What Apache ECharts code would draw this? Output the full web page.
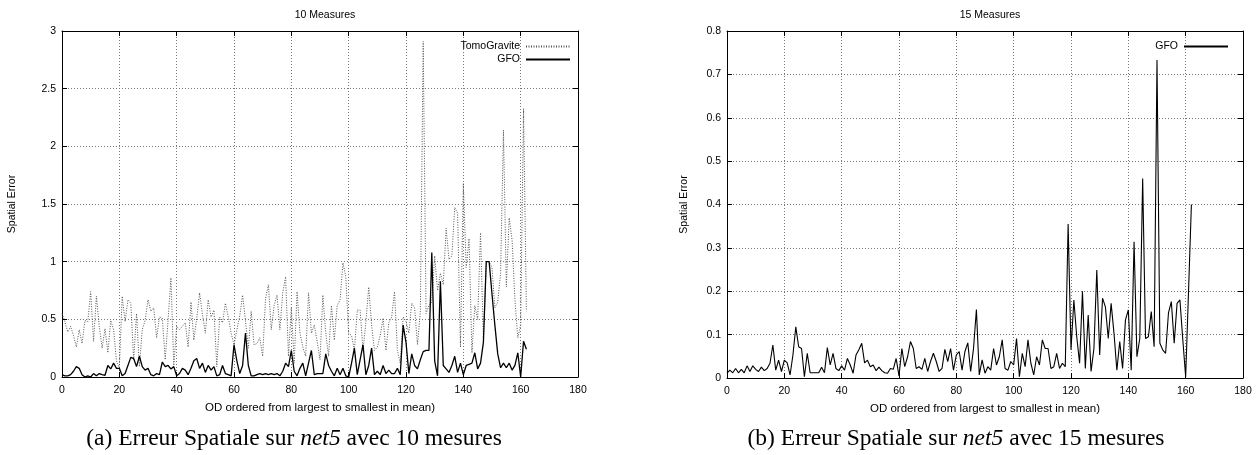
<!DOCTYPE html>
<html>
<head>
<meta charset="utf-8">
<script src="https://cdn.jsdelivr.net/npm/echarts@6/dist/echarts.min.js"></script>
<style>html,body{margin:0;padding:0;background:#fff}#c{width:1258px;height:455px}</style>
</head>
<body>
<div id="c"></div>
<script>
// ---- data ----
const titles = ['10 Measures', '15 Measures'];
const captionsPrefix = ['(a) Erreur Spatiale sur ', '(b) Erreur Spatiale sur '];
const captionsNet = ['net5', 'net5'];
const captionsSuffix = [' avec 10 mesures', ' avec 15 mesures'];
const xName = 'OD ordered from largest to smallest in mean)';
const yName = 'Spatial Error';
const xTicks = [0, 20, 40, 60, 80, 100, 120, 140, 160, 180];
const yTicksA = [0, 0.5, 1, 1.5, 2, 2.5, 3];
const yTicksB = [0, 0.1, 0.2, 0.3, 0.4, 0.5, 0.6, 0.7, 0.8];

const tomo10 = [
 0.55,0.48,0.39,0.44,0.36,0.26,0.41,0.29,0.49,0.48,
 0.74,0.31,0.70,0.44,0.25,0.42,0.21,0.49,0.41,0.14,
 0.08,0.70,0.48,0.67,0.64,0.15,0.55,0.09,0.41,0.49,
 0.67,0.57,0.60,0.34,0.52,0.51,0.15,0.49,0.86,0.10,
 0.44,0.41,0.44,0.47,0.26,0.65,0.32,0.51,0.73,0.54,
 0.38,0.67,0.52,0.58,0.09,0.52,0.47,0.64,0.52,0.38,
 0.28,0.41,0.53,0.71,0.49,0.25,0.57,0.28,0.29,0.34,
 0.18,0.68,0.80,0.41,0.62,0.71,0.41,0.73,0.87,0.18,
 0.60,0.12,0.74,0.38,0.26,0.18,0.73,0.38,0.45,0.31,
 0.15,0.71,0.38,0.18,0.62,0.32,0.62,0.67,0.99,0.87,
 0.38,0.36,0.23,0.58,0.58,0.23,0.47,0.78,0.45,0.23,
 0.26,0.36,0.51,0.23,0.47,0.52,0.74,0.23,0.12,0.52,
 0.48,0.38,0.64,0.60,0.28,0.56,2.91,0.55,0.62,0.65,
 1.05,0.75,0.90,0.80,1.29,1.02,1.05,1.47,1.42,0.26,
 1.68,0.95,1.20,0.21,0.62,0.50,1.25,0.33,1.00,1.00,
 0.95,0.60,0.65,0.90,2.14,0.78,1.38,1.19,0.67,0.34,
 0.45,2.33,0.57
];
const gfo10 = [
 0.02,0.01,0.01,0.02,0.05,0.09,0.075,0.02,0.0,0.01,
 0.0,0.03,0.01,0.03,0.02,0.015,0.10,0.07,0.12,0.075,
 0.075,0.01,0.03,0.10,0.17,0.16,0.09,0.18,0.09,0.06,
 0.075,0.02,0.01,0.03,0.02,0.13,0.09,0.10,0.07,0.09,
 0.01,0.03,0.075,0.06,0.02,0.075,0.14,0.16,0.075,0.12,
 0.04,0.10,0.06,0.09,0.01,0.02,0.10,0.03,0.02,0.01,
 0.28,0.14,0.03,0.10,0.38,0.10,0.01,0.01,0.02,0.03,
 0.02,0.03,0.02,0.03,0.02,0.03,0.01,0.05,0.12,0.09,
 0.23,0.05,0.01,0.075,0.12,0.01,0.12,0.23,0.02,0.03,
 0.03,0.03,0.20,0.10,0.05,0.01,0.075,0.02,0.075,0.01,
 0.0,0.12,0.25,0.02,0.15,0.28,0.02,0.10,0.25,0.02,
 0.05,0.02,0.10,0.03,0.06,0.03,0.03,0.075,0.02,0.45,
 0.30,0.03,0.20,0.10,0.07,0.15,0.22,0.23,0.23,1.08,
 0.14,0.01,0.83,0.10,0.07,0.04,0.10,0.18,0.04,0.12,
 0.02,0.10,0.11,0.12,0.21,0.07,0.12,0.30,1.00,1.00,
 0.72,0.45,0.20,0.08,0.12,0.08,0.12,0.06,0.10,0.21,
 0.0,0.31,0.24
];
const gfo15 = [
 0.011,0.018,0.012,0.022,0.012,0.020,0.012,0.028,0.015,0.028,
 0.020,0.015,0.025,0.017,0.022,0.034,0.076,0.018,0.041,0.015,
 0.041,0.035,0.007,0.053,0.118,0.072,0.068,0.003,0.057,0.012,
 0.012,0.012,0.012,0.025,0.012,0.070,0.030,0.057,0.022,0.017,
 0.028,0.018,0.045,0.030,0.011,0.053,0.065,0.080,0.035,0.041,
 0.026,0.030,0.017,0.025,0.017,0.012,0.011,0.022,0.020,0.045,
 0.005,0.068,0.026,0.049,0.084,0.068,0.022,0.026,0.020,0.045,
 0.015,0.038,0.057,0.038,0.015,0.022,0.066,0.038,0.068,0.018,
 0.053,0.061,0.018,0.061,0.081,0.015,0.068,0.158,0.007,0.042,
 0.011,0.026,0.018,0.068,0.030,0.049,0.088,0.022,0.018,0.038,
 0.030,0.091,0.003,0.057,0.026,0.088,0.034,0.007,0.049,0.030,
 0.088,0.068,0.068,0.022,0.026,0.057,0.022,0.034,0.026,0.355,
 0.065,0.180,0.095,0.034,0.200,0.022,0.145,0.015,0.068,0.249,
 0.053,0.184,0.164,0.091,0.172,0.103,0.018,0.084,0.022,0.134,
 0.157,0.018,0.314,0.049,0.091,0.460,0.091,0.095,0.153,0.072,
 0.733,0.080,0.065,0.057,0.150,0.176,0.080,0.172,0.180,0.088,
 0.003,0.200,0.400
];

// ---- chart ----
const FONT = 'Liberation Sans';
const grids = [
  {left: 62, top: 31, width: 516, height: 346},
  {left: 727, top: 31, width: 516, height: 347}
];
const gridLine = {show: true, lineStyle: {color: '#777', width: 1, type: [1, 2]}};
const axisLine = {show: true, onZero: false, lineStyle: {color: '#000', width: 1}};
const tick = {show: true, inside: true, length: 5, lineStyle: {color: '#000'}};
const lbl = {color: '#000', fontFamily: FONT, fontSize: 10.5};

function xAxes(gi) {
  const base = {type: 'value', gridIndex: gi, min: xTicks[0], max: xTicks[xTicks.length - 1],
    interval: xTicks[1] - xTicks[0], axisLine, axisTick: tick};
  return [
    Object.assign({}, base, {position: 'bottom', splitLine: gridLine,
      axisLabel: Object.assign({}, lbl, {margin: 8}),
      name: xName, nameLocation: 'middle', nameGap: 25,
      nameTextStyle: {color: '#000', fontFamily: FONT, fontSize: 11.5}}),
    Object.assign({}, base, {position: 'top', splitLine: {show: false}, axisLabel: {show: false}})
  ];
}
function yAxes(gi, ticks) {
  const base = {type: 'value', gridIndex: gi, min: ticks[0], max: ticks[ticks.length - 1],
    interval: +(ticks[1] - ticks[0]).toFixed(3), axisLine, axisTick: tick};
  return [
    Object.assign({}, base, {position: 'left', splitLine: gridLine,
      axisLabel: Object.assign({}, lbl, {margin: 6}),
      name: yName, nameLocation: 'middle', nameGap: gi === 0 ? 44 : 37, nameRotate: 90,
      nameTextStyle: {color: '#000', fontFamily: FONT, fontSize: 10.5}}),
    Object.assign({}, base, {position: 'right', splitLine: {show: false}, axisLabel: {show: false}})
  ];
}

const toPts = arr => arr.map((v, i) => [i, v]);

const legendCommon = {orient: 'vertical', align: 'right', itemHeight: 8, itemGap: 2,
  selectedMode: false, itemStyle: {opacity: 0},
  textStyle: {fontFamily: FONT, fontSize: 10.5, color: '#000', padding: [0, 1, 0, 0]}};

const option = {
  animation: false,
  backgroundColor: '#fff',
  title: titles.map((t, i) => ({
    text: t, left: grids[i].left + grids[i].width / 2, top: 5, textAlign: 'center',
    textStyle: {fontFamily: FONT, fontSize: 10.5, fontWeight: 'normal', color: '#000'}
  })),
  legend: [
    Object.assign({}, legendCommon, {data: ['TomoGravite', 'GFO'], right: 682, top: 36, itemWidth: 44}),
    Object.assign({}, legendCommon, {data: ['GFO'], right: 24, top: 36, itemWidth: 44})
  ],
  grid: grids,
  xAxis: [...xAxes(0), ...xAxes(1)],
  yAxis: [...yAxes(0, yTicksA), ...yAxes(1, yTicksB)],
  series: [
    {name: 'TomoGravite', type: 'line', xAxisIndex: 0, yAxisIndex: 0, data: toPts(tomo10),
     symbol: 'none', lineStyle: {color: '#555', width: 1, type: [1, 1.5]}, z: 2},
    {name: 'GFO', type: 'line', xAxisIndex: 0, yAxisIndex: 0, data: toPts(gfo10),
     symbol: 'none', lineStyle: {color: '#000', width: 1.3}, z: 3},
    {name: 'GFO', type: 'line', xAxisIndex: 2, yAxisIndex: 2, data: toPts(gfo15),
     symbol: 'none', lineStyle: {color: '#000', width: 1.1}, z: 3}
  ],
  graphic: [0, 1].map(i => ({
    type: 'text', x: (i === 0 ? 294 : 956), y: 439,
    style: {
      text: '{n|' + captionsPrefix[i] + '}{it|' + captionsNet[i] + '}{n|' + captionsSuffix[i] + '}',
      align: 'center', verticalAlign: 'middle',
      rich: {
        n: {fontFamily: 'Liberation Serif', fontSize: 23.5, fill: '#000'},
        it: {fontFamily: 'Liberation Serif', fontSize: 23.5, fontStyle: 'italic', fill: '#000'}
      }
    }
  }))
};

const chart = echarts.init(document.getElementById('c'), null, {renderer: 'canvas'});
chart.setOption(option);
</script>
</body>
</html>
